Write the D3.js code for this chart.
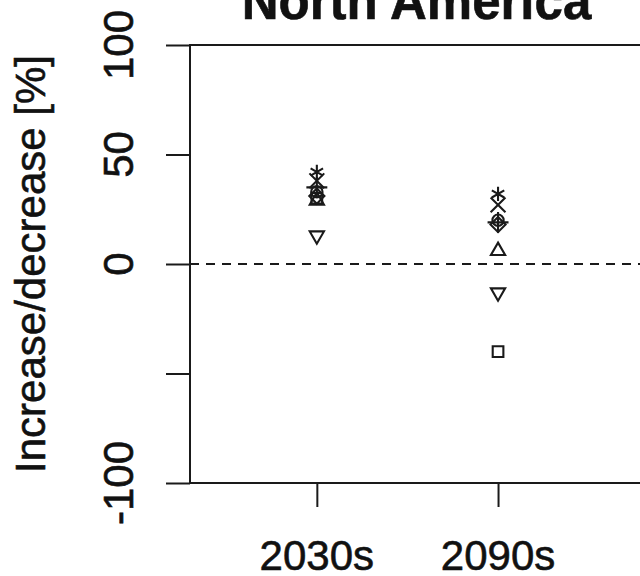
<!DOCTYPE html>
<html>
<head>
<meta charset="utf-8">
<script src="https://cdn.jsdelivr.net/npm/d3@7"></script>
<style>
  body { margin: 0; background: #fff; }
  svg { display: block; }
  text { font-family: "Liberation Sans", Arial, sans-serif; fill: #111; stroke: #111; stroke-width: 0.6px; }
</style>
</head>
<body>
<svg id="chart" width="640" height="576"></svg>
<script>
// periods on the x axis
const periods = ["2030s", "2090s"];
const yTicks = [-100, -50, 0, 50, 100];
// R drops the -50 label because it would crowd its neighbours
const yLabels = [-100, 0, 50, 100];

// one series per symbol, values for 2030s and 2090s (% change)
const symbolNames = ["square", "circle", "triangleUp", "plus", "times", "diamond", "triangleDown", "asterisk"];
const series2030s = [30, 33, 29, 35, 38, 31, 13, 42];
const series2090s = [-40, 20, 6, 19, 27, 18, -13, 32];

const svg = d3.select("#chart");

// plot region (right side runs off the picture)
const plotLeft = 190, plotTop = 45, plotBottom = 483, plotRight = 643;

const x = d3.scaleLinear().domain([0.3, 2.8]).range([plotLeft, plotRight]);
const y = d3.scaleLinear().domain([-100, 100]).range([plotBottom, plotTop]);

const ink = "#1a1a1a";

// box round the plot region
svg.append("rect")
    .attr("x", plotLeft).attr("y", plotTop)
    .attr("width", plotRight - plotLeft).attr("height", plotBottom - plotTop)
    .attr("fill", "none").attr("stroke", ink).attr("stroke-width", 2);

// y axis
const yAxis = svg.append("g")
    .attr("transform", `translate(${plotLeft},0)`)
    .call(d3.axisLeft(y).tickValues(yTicks).tickSize(24).tickFormat(""));
yAxis.select(".domain").remove();
yAxis.selectAll(".tick line").attr("stroke", ink).attr("stroke-width", 2);

svg.append("g").selectAll("text")
    .data(yLabels)
    .join("text")
    .attr("transform", d => `translate(133,${y(d)}) rotate(-90)`)
    .attr("text-anchor", "middle")
    .attr("font-size", 42)
    .text(d => d);

// x axis
const xAxis = svg.append("g")
    .attr("transform", `translate(0,${plotBottom})`)
    .call(d3.axisBottom(x).tickValues([1, 2]).tickSize(24).tickFormat(""));
xAxis.select(".domain").remove();
xAxis.selectAll(".tick line").attr("stroke", ink).attr("stroke-width", 2);

svg.append("g").selectAll("text")
    .data(periods)
    .join("text")
    .attr("x", (d, i) => x(i + 1))
    .attr("y", 570)
    .attr("text-anchor", "middle")
    .attr("font-size", 42)
    .text(d => d);

// axis title
svg.append("text")
    .attr("transform", `translate(45,${(plotTop + plotBottom) / 2}) rotate(-90)`)
    .attr("text-anchor", "middle")
    .attr("font-size", 42)
    .text("Increase/decrease [%]");

// chart title
svg.append("text")
    .attr("x", (plotLeft + plotRight) / 2)
    .attr("y", 19)
    .attr("text-anchor", "middle")
    .attr("font-size", 51)
    .attr("font-weight", "bold")
    .text("North America");

// zero line
svg.append("line")
    .attr("x1", plotLeft).attr("x2", plotRight)
    .attr("y1", y(0)).attr("y2", y(0))
    .attr("stroke", ink).attr("stroke-width", 1.8)
    .attr("stroke-dasharray", "9,7");

// symbols, R pch style outlines
const shapes = {
    square: d3.symbolSquare2,
    circle: d3.symbolCircle,
    triangleUp: d3.symbolTriangle2,
    plus: d3.symbolPlus,
    times: d3.symbolTimes,
    diamond: d3.symbolDiamond2,
    triangleDown: d3.symbolTriangle2,
    asterisk: d3.symbolAsterisk
};

const points = [];
symbolNames.forEach((name, i) => {
    points.push({ name, period: 1, value: series2030s[i] });
    points.push({ name, period: 2, value: series2090s[i] });
});

svg.append("g").selectAll("path")
    .data(points)
    .join("path")
    .attr("d", d => d3.symbol(shapes[d.name], d.name === "circle" ? 100 : 145)())
    .attr("transform", d => `translate(${x(d.period)},${y(d.value)})` + (d.name === "triangleDown" ? " rotate(180)" : ""))
    .attr("fill", "none")
    .attr("stroke", ink)
    .attr("stroke-width", 2.1);
</script>
</body>
</html>
